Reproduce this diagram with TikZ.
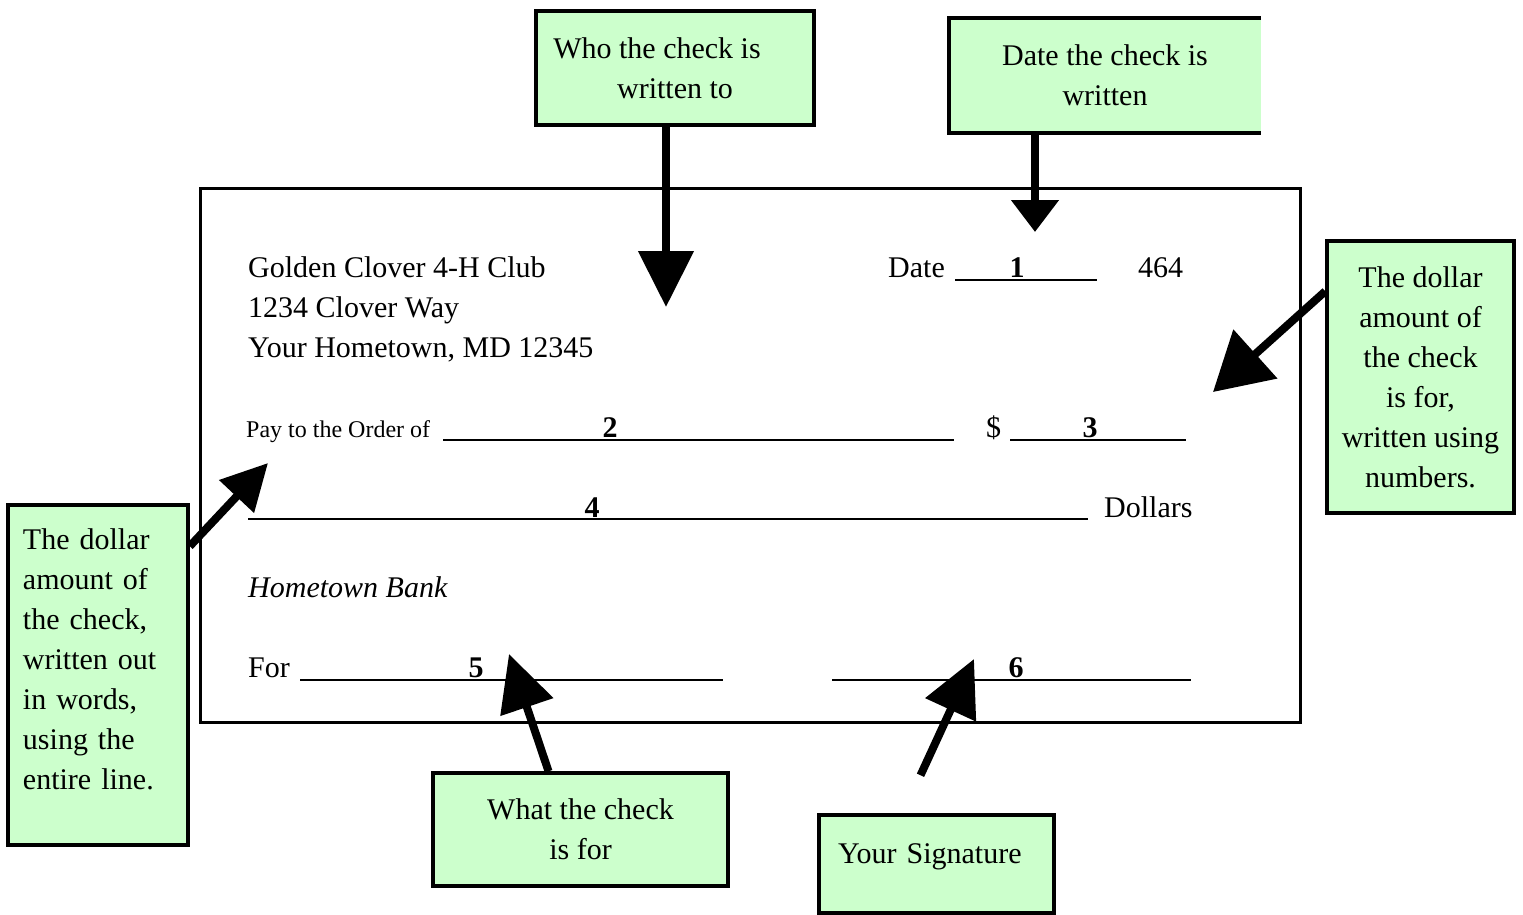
\documentclass[tikz,border=0pt]{standalone}
\usepackage{fontspec}
\setmainfont{Liberation Serif}
\usetikzlibrary{arrows.meta, calc}
\definecolor{notegreen}{HTML}{CCFFCC}

\begin{document}
\begin{tikzpicture}[
  x=1pt, y=-1pt,
  every node/.style={font=\fontsize{30}{40}\selectfont, inner sep=0pt},
  note/.style={draw, line width=3.5pt, fill=notegreen, align=center},
  blank/.style={line width=2pt},
  num/.style={font=\fontsize{30}{40}\selectfont\bfseries, anchor=base},
  arr/.style={line width=8pt, -{Triangle[length=56pt, width=54pt]}},
]
\useasboundingbox (0,0) rectangle (1523,914);

\node[draw, line width=3pt, minimum width=1100pt, minimum height=534pt] (check) at (750,455) {};

\node[anchor=base west] (club) at (248,277) {Golden Clover 4-H Club};
\node[anchor=base west] (street) at (248,317) {1234 Clover Way};
\node[anchor=base west] (town) at (248,357) {Your Hometown, MD 12345};
\node[anchor=base west] (datelbl) at (888,277) {Date};
\draw[blank] (955,280) -- (1097,280);
\node[num] (dateno) at (1017,277) {1};
\node[anchor=base west] (checkno) at (1138,277) {464};

\node[anchor=base west, font=\fontsize{24}{30}\selectfont] (paylbl) at (246,437) {Pay to the Order of};
\draw[blank] (443,440) -- (954,440);
\node[num] (payno) at (610,437) {2};
\node[anchor=base west] (dollarsign) at (986,437) {\$};
\draw[blank] (1010,440) -- (1186,440);
\node[num] (amtno) at (1090,437) {3};

\draw[blank] (248,519) -- (1088,519);
\node[num] (wordsno) at (592,517) {4};
\node[anchor=base west] (dollarslbl) at (1104,517) {Dollars};

\node[anchor=base west, font=\fontsize{30}{40}\selectfont\itshape] (bank) at (248,597) {Hometown Bank};

\node[anchor=base west] (forlbl) at (248,677) {For};
\draw[blank] (300,680) -- (723,680);
\node[num] (forno) at (476,677) {5};
\draw[blank] (832,680) -- (1191,680);
\node[num] (signno) at (1016,677) {6};

\node[note, minimum width=278pt, minimum height=114pt] (whobox) at (675,68) {Who the check is\hspace*{36pt}\\written to};
\node[fill=notegreen, align=center, minimum width=312pt, minimum height=115pt] (datebox) at (1105,75.5) {Date the check is\\written};
\draw[line width=3.5pt] (datebox.north east) -| (datebox.south west) -- (datebox.south east);
\node[note, minimum width=187pt, minimum height=272pt] (numbox) at (1420.5,377) {The dollar\\amount of\\the check\\is for,\\written using\\numbers.};
\node[note, align=left, text width=150pt, text depth=271pt, minimum width=180pt, minimum height=340pt] (wordsbox) at (98,675) {The dollar\\amount of\\the check,\\written out\\in words,\\using the\\entire line.};
\node[note, minimum width=295pt, minimum height=113pt] (forbox) at (580.5,829.5) {What the check\\is for};
\node[note, align=left, text width=197pt, text depth=21pt, minimum width=235pt, minimum height=98pt] (signbox) at (936.5,864) {Your Signature};

\coordinate (payeetip) at (666,307);
\coordinate (datetip) at (1035,232);
\coordinate (amttip) at (1213,392);
\coordinate (wordstip) at (268,463);
\coordinate (fortip) at (509,654);
\coordinate (signtip) at (974,659);

\draw[arr] (whobox.south -| payeetip) -- (payeetip);
\draw[arr, -{Triangle[length=32pt, width=46pt]}] (datebox.south -| datetip) -- (datetip);
\draw[arr, -{Triangle[length=57pt, width=64pt]}] ($(numbox.north west)+(0,52)$) -- (amttip);
\draw[arr, -{Triangle[length=46pt, width=46pt]}] ($(wordsbox.north east)+(0,43)$) -- (wordstip);
\draw[arr] ($(forbox.north)+(-32,0)$) -- (fortip);
\draw[arr] ($(signbox.north)+(-16,-38)$) -- (signtip);
\end{tikzpicture}
\end{document}
